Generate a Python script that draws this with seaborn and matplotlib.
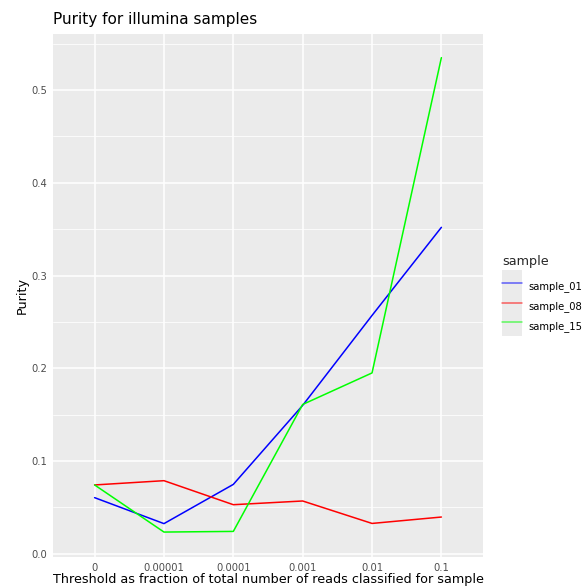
import matplotlib
matplotlib.use("Agg")
import matplotlib.pyplot as plt
import numpy as np
import pandas as pd
import seaborn as sns
from matplotlib.lines import Line2D
from matplotlib.patches import Rectangle
from matplotlib.legend_handler import HandlerTuple, HandlerPatch
from matplotlib.ticker import FixedLocator

# Classification thresholds (fraction of total reads) and purity per sample
thresholds = ["0", "0.00001", "0.0001", "0.001", "0.01", "0.1"]
samples = ["sample_01", "sample_08", "sample_15"]
purity_01 = [0.0605, 0.0325, 0.0748, 0.160, 0.257, 0.352]
purity_08 = [0.0742, 0.0788, 0.0529, 0.0569, 0.0327, 0.0396]
purity_15 = [0.0742, 0.0234, 0.0241, 0.161, 0.195, 0.535]
sample_colors = ["#0000FF", "#FF0000", "#00FF00"]

y_ticks = [0.0, 0.1, 0.2, 0.3, 0.4, 0.5]
y_tick_labels = ["0.0", "0.1", "0.2", "0.3", "0.4", "0.5"]
y_minor = [0.05, 0.15, 0.25, 0.35, 0.45, 0.55]

df = pd.DataFrame({
    "threshold": thresholds * 3,
    "purity": purity_01 + purity_08 + purity_15,
    "sample": [s for s in samples for _ in thresholds],
})

sns.set_theme(style="darkgrid", rc={
    "axes.facecolor": "#EBEBEB",
    "figure.facecolor": "white",
    "grid.color": "white",
    "axes.edgecolor": "none",
    "axes.linewidth": 0,
})
plt.rcParams["font.family"] = ["DejaVu Sans"]

W, H = 584, 587
fig = plt.figure(figsize=(W / 100, H / 100), dpi=100)
ax = fig.add_axes([53 / W, 1 - 557 / H, 430 / W, 523 / H])

sns.lineplot(data=df, x="threshold", y="purity", hue="sample",
             palette=sample_colors, hue_order=samples, sort=False,
             linewidth=1.1, legend=False, ax=ax)

ax.set_xlim(-0.6, 5.6)
ax.set_ylim(-0.0035, 0.5605)
ax.set_xticks(range(len(thresholds)))
ax.set_xticklabels(thresholds)
ax.set_yticks(y_ticks)
ax.set_yticklabels(y_tick_labels)
ax.yaxis.set_minor_locator(FixedLocator(y_minor))

ax.grid(which="major", color="white", linewidth=1.1)
ax.grid(which="minor", axis="y", color="white", linewidth=0.55)
ax.set_axisbelow(True)
for s in ax.spines.values():
    s.set_visible(False)

ax.tick_params(axis="both", which="major", length=3, width=0.8,
               color="#333333", labelcolor="#4D4D4D", labelsize=7.2, pad=1.2)
ax.tick_params(axis="both", which="minor", length=0)

ax.set_xlabel("Threshold as fraction of total number of reads classified for sample",
              fontsize=9.2, color="black", labelpad=0)
ax.set_ylabel("Purity", fontsize=9.2, color="black", labelpad=1.5)
ax.set_title("Purity for illumina samples", loc="left", fontsize=11,
             color="black", pad=7)


# Grey key that fills the whole legend handle box, so the keys form one column
def full_key(legend, orig_handle, xdescent, ydescent, width, height, fontsize):
    return Rectangle((-xdescent, -ydescent), width, height + ydescent)


handles = [(Rectangle((0, 0), 1, 1, facecolor="#EBEBEB", edgecolor="none"),
            Line2D([], [], color=c, linewidth=1.1, alpha=0.6)) for c in sample_colors]
leg = ax.legend(handles, samples,
                handler_map={tuple: HandlerTuple(ndivide=1, pad=0),
                             Rectangle: HandlerPatch(patch_func=full_key)},
                loc="upper left", bbox_to_anchor=(502 / W, 1 - 276.5 / H),
                bbox_transform=fig.transFigure, frameon=False, borderpad=0,
                borderaxespad=0, labelspacing=0, handlelength=2.0,
                handleheight=2.65, handletextpad=0.6, fontsize=7.2)
for t in leg.get_texts():
    t.set_color("black")
fig.text(502 / W, 1 - 262 / H, "sample", fontsize=9.2, va="center", ha="left")

fig.savefig("out.png", dpi=100)
